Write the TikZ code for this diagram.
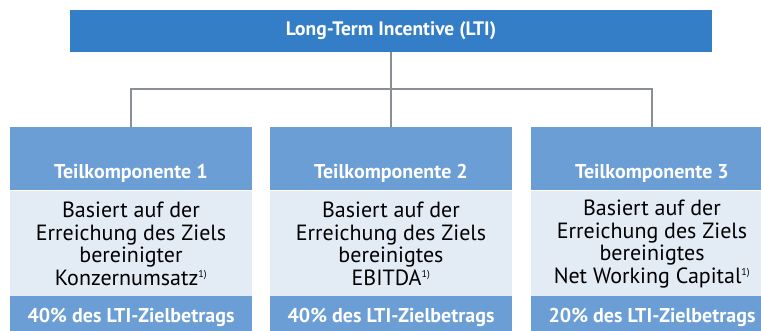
\documentclass[tikz,border=0pt]{standalone}
\usepackage{fontspec}
\setmainfont{PT Sans}
\definecolor{ltiblue}{HTML}{347EC7}
\definecolor{headblue}{HTML}{6A9ED5}
\definecolor{bodyblue}{HTML}{E3EBF5}
\definecolor{linegray}{HTML}{8A8F96}
\newcommand{\fnref}{\textsuperscript{\fontsize{10}{10}\selectfont 1)}}

\begin{document}
\begin{tikzpicture}[x=1pt,y=-1pt,
  bar/.style={fill=ltiblue, text=white, inner sep=0pt, minimum width=642pt, minimum height=42pt, font=\fontsize{19.5}{22}\selectfont\bfseries},
  head/.style={fill=headblue, inner sep=0pt, minimum width=242pt, minimum height=63pt},
  foot/.style={fill=headblue, text=white, inner sep=0pt, minimum width=242pt, minimum height=42pt, font=\fontsize{20}{22}\selectfont\bfseries},
  body/.style={fill=bodyblue, inner sep=0pt, minimum width=242pt, minimum height=106pt, align=center, font=\fontsize{22}{22.5}\selectfont},
  headtxt/.style={text=white, inner sep=0pt, font=\fontsize{20}{22}\selectfont\bfseries}]
\useasboundingbox (0,0) rectangle (761,330);
\node[bar] (lti) at (391,31) {Long-Term Incentive (LTI)};
\node[head] (k1) at (131,158.5) {};
\node[head] (k2) at (391,158.5) {};
\node[head] (k3) at (652,158.5) {};
\node[headtxt] (t1) at (131,173) {Teilkomponente 1};
\node[headtxt] (t2) at (391,173) {Teilkomponente 2};
\node[headtxt] (t3) at (652,173) {Teilkomponente 3};
\node[body] (b1) at (131,244) {Basiert auf der\\Erreichung des Ziels\\bereinigter\\Konzernumsatz\fnref};
\node[body] (b2) at (391,244) {Basiert auf der\\Erreichung des Ziels\\bereinigtes\\EBITDA\fnref};
\node[body] (b3) at (652,244) {Basiert auf der\\Erreichung des Ziels\\bereinigtes\\Net Working Capital\fnref};
\node[foot] (f1) at (131,317) {40\% des LTI-Zielbetrags};
\node[foot] (f2) at (391,317) {40\% des LTI-Zielbetrags};
\node[foot] (f3) at (652,317) {20\% des LTI-Zielbetrags};
\coordinate (j) at (391,89);
\draw[linegray, line width=2.2pt] (lti.south) -- (k2.north);
\draw[linegray, line width=2.2pt] (k1.north) |- (j) -| (k3.north);
\end{tikzpicture}
\end{document}
